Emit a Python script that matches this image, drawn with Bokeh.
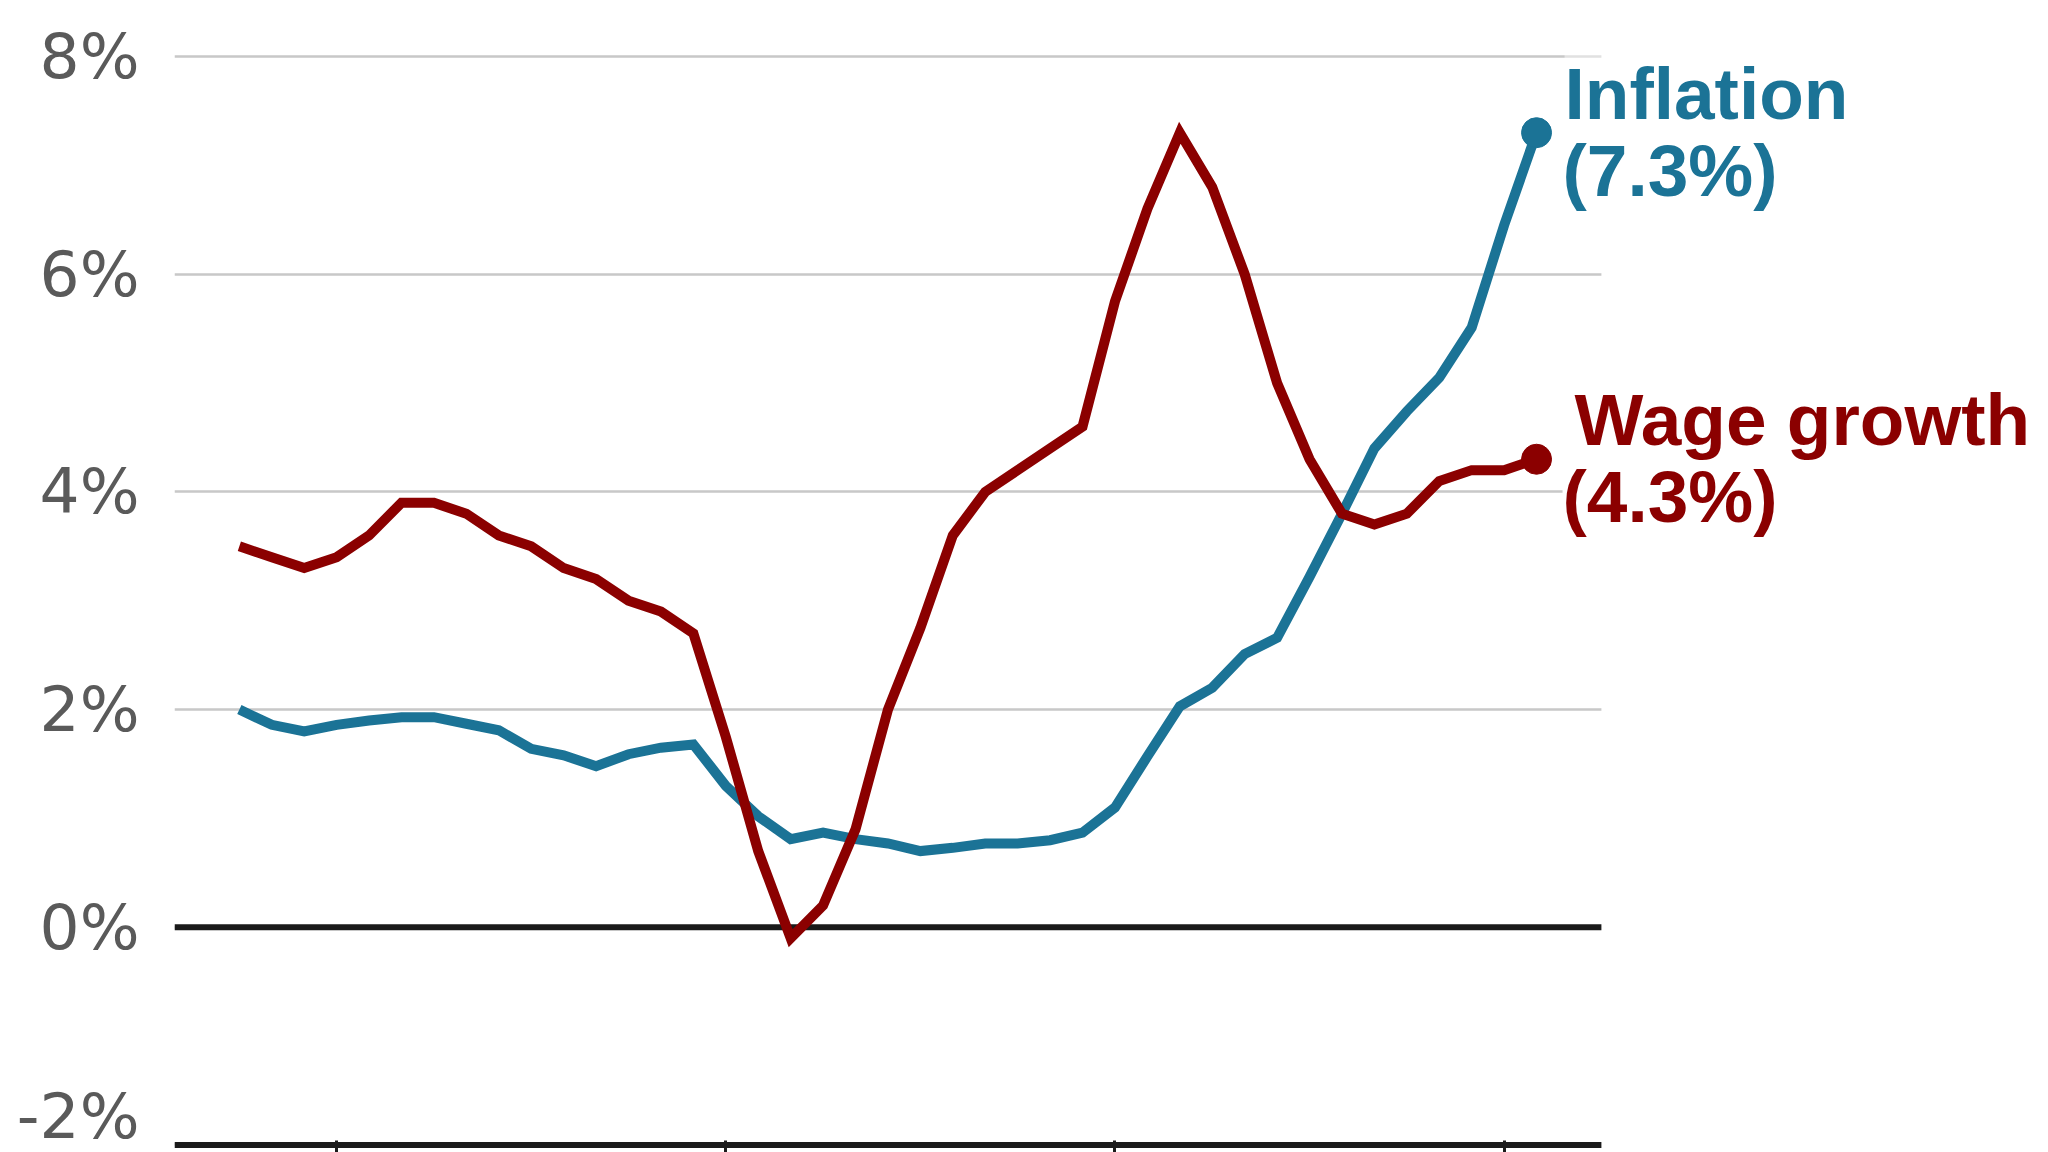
from bokeh.plotting import figure
from bokeh.models import FixedTicker, Span, Label, BoxAnnotation
from bokeh.embed import file_html
from bokeh.resources import INLINE

# ---- data (monthly) ----
months = list(range(41))
inflation = [2.0, 1.86, 1.8, 1.86, 1.9, 1.93, 1.93, 1.87, 1.81, 1.64,
             1.58, 1.48, 1.59, 1.65, 1.68, 1.3, 1.02, 0.81, 0.87, 0.81,
             0.77, 0.70, 0.73, 0.77, 0.77, 0.80, 0.87, 1.10, 1.57, 2.03,
             2.2, 2.51, 2.66, 3.22, 3.8, 4.4, 4.74, 5.05, 5.51, 6.45,
             7.3]
wage_growth = [3.5, 3.4, 3.3, 3.4, 3.6, 3.9, 3.9, 3.8, 3.6, 3.5,
               3.3, 3.2, 3.0, 2.9, 2.7, 1.75, 0.7, -0.1, 0.2, 0.9,
               2.0, 2.75, 3.6, 4.0, 4.2, 4.4, 4.6, 5.75, 6.6, 7.3,
               6.8, 6.0, 5.0, 4.3, 3.8, 3.7, 3.8, 4.1, 4.2, 4.2,
               4.3]
y_ticks = [-2, 0, 2, 4, 6, 8]
y_tick_labels = {-2: "-2%", 0: "0%", 2: "2%", 4: "4%", 6: "6%", 8: "8%"}
x_ticks = [3, 15, 27, 39]
x_end = 42  # right end of the plotted area (grid/axis lines stop here)

BLUE = "#1b7396"
RED = "#8b0000"
INK = "#1a1a1a"

p = figure(width=2040, height=1152, x_range=(-2, 55.54), y_range=(-2.069, 8.5145),
           output_backend="svg", toolbar_location=None,
           min_border_left=174, min_border_right=0,
           min_border_top=0, min_border_bottom=0)
p.outline_line_color = None
p.background_fill_color = "white"
p.border_fill_color = "white"

# y axis
p.yaxis.ticker = FixedTicker(ticks=y_ticks)
p.yaxis.major_label_overrides = y_tick_labels
p.yaxis.axis_line_color = None
p.yaxis.major_tick_line_color = None
p.yaxis.minor_tick_line_color = None
p.yaxis.major_tick_out = 0
p.yaxis.major_tick_in = 0
p.yaxis.major_label_standoff = 35
p.yaxis.major_label_text_font = "DejaVu Sans"
p.yaxis.major_label_text_font_size = "63px"
p.yaxis.major_label_text_color = "#5a5a5a"

# x axis: only the small tick marks below the -2% line (labels are cut off)
p.xaxis.ticker = FixedTicker(ticks=[], minor_ticks=x_ticks)
p.xaxis.axis_line_color = None
p.xaxis.major_tick_out = 0
p.xaxis.major_tick_in = 0
p.xaxis.major_label_standoff = 0
p.xaxis.major_label_text_font_size = "0px"
p.xaxis.minor_tick_line_color = INK
p.xaxis.minor_tick_line_width = 3
p.xaxis.minor_tick_in = 12
p.xaxis.minor_tick_out = 0

# grid
p.xgrid.visible = False
p.ygrid.ticker = FixedTicker(ticks=y_ticks)
p.ygrid.grid_line_color = "#c8c8c8"
p.ygrid.grid_line_width = 2.5

p.add_layout(Span(location=0, dimension="width", line_color=INK, line_width=6, level="underlay"))
p.add_layout(Span(location=y_ticks[0], dimension="width", line_color=INK, line_width=6, level="underlay"))
# blank out the grid beyond the plotted area, where the series labels sit
p.add_layout(BoxAnnotation(left=x_end, fill_color="white", fill_alpha=1,
                           line_color=None, level="underlay"))

p.line(months, inflation, line_color=BLUE, line_width=10, line_join="miter")
p.line(months, wage_growth, line_color=RED, line_width=10, line_join="miter")
p.scatter([months[-1]], [inflation[-1]], size=30, color=BLUE)
p.scatter([months[-1]], [wage_growth[-1]], size=30, color=RED)

common = dict(text_font="Liberation Sans", text_font_style="bold",
              text_font_size="73px", text_baseline="alphabetic",
              text_align="left", padding=0)

p.add_layout(Label(x=months[-1], y=inflation[-1], x_offset=26, y_offset=-38,
                   text=f"({inflation[-1]}%)", text_color=BLUE, **common))
p.add_layout(Label(x=months[-1], y=inflation[-1], x_offset=28, y_offset=39,
                   text="Inflation", text_color=BLUE,
                   background_fill_color="white", background_fill_alpha=0.45, **common))
p.add_layout(Label(x=months[-1], y=wage_growth[-1], x_offset=26, y_offset=-37,
                   text=f"({wage_growth[-1]}%)", text_color=RED,
                   background_fill_color="white", **common))
p.add_layout(Label(x=months[-1], y=wage_growth[-1], x_offset=38, y_offset=40,
                   text="Wage growth", text_color=RED, **common))

open("out.html", "w").write(file_html(p, INLINE))
